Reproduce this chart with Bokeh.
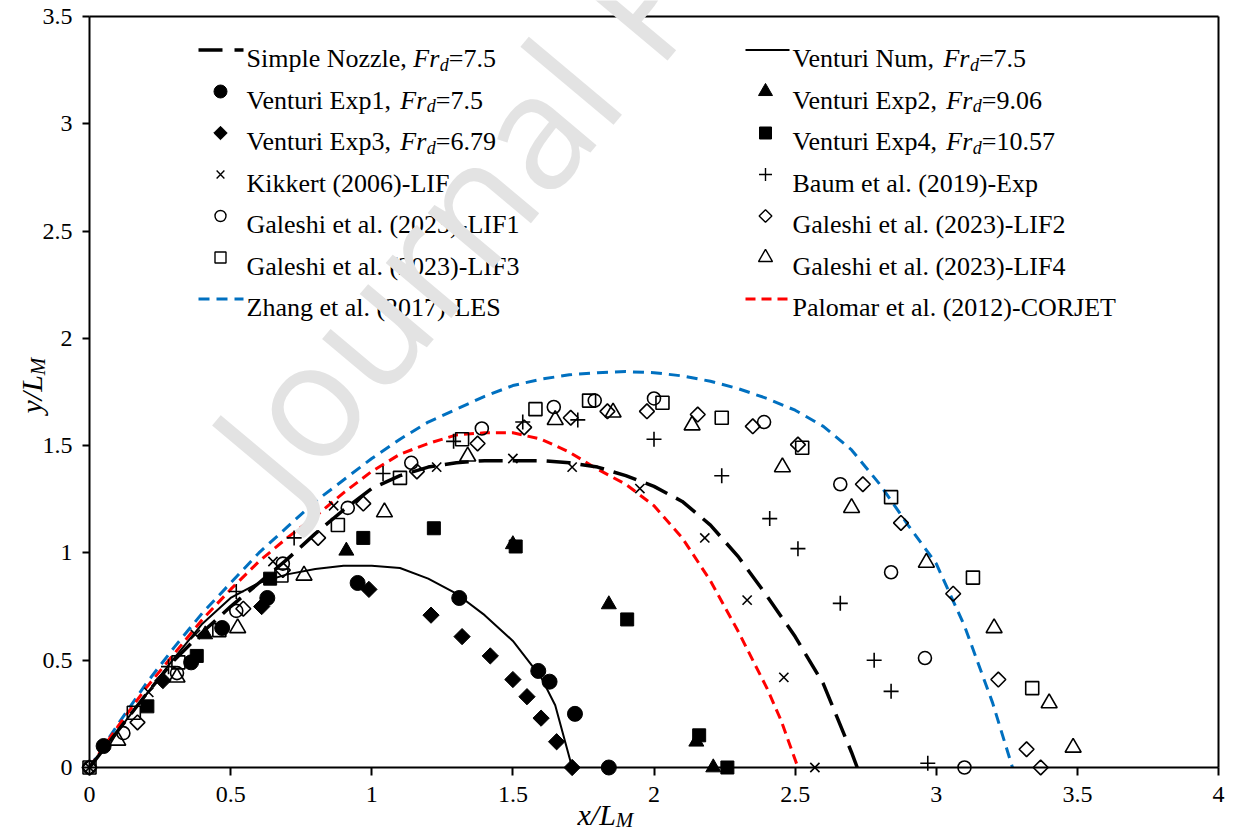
import numpy as np
from bokeh.plotting import figure
from bokeh.models import Range1d, FixedTicker, NumeralTickFormatter, LinearAxis, Label
from bokeh.embed import file_html
from bokeh.resources import INLINE

# ---------------- data ----------------
nozzle_x = [0, 0.1, 0.2, 0.3, 0.4, 0.5, 0.6, 0.7, 0.8, 0.9, 1.0, 1.1, 1.2, 1.3, 1.4, 1.5, 1.6, 1.7, 1.8, 1.9, 2.0, 2.1, 2.2, 2.3, 2.4, 2.5, 2.6, 2.7, 2.72]
nozzle_y = [0, 0.17, 0.34, 0.50, 0.63, 0.75, 0.86, 0.97, 1.09, 1.20, 1.30, 1.36, 1.40, 1.42, 1.43, 1.43, 1.43, 1.42, 1.40, 1.36, 1.31, 1.24, 1.13, 0.98, 0.80, 0.61, 0.39, 0.07, 0.0]

vnum_x = [0, 0.1, 0.2, 0.3, 0.4, 0.5, 0.6, 0.7, 0.8, 0.9, 1.0, 1.1, 1.2, 1.3, 1.4, 1.5, 1.6, 1.65, 1.71]
vnum_y = [0, 0.17, 0.34, 0.51, 0.67, 0.79, 0.86, 0.90, 0.925, 0.94, 0.94, 0.93, 0.88, 0.81, 0.71, 0.59, 0.42, 0.29, 0.0]

zhang_x = [0, 0.1, 0.2, 0.3, 0.4, 0.5, 0.6, 0.7, 0.8, 0.9, 1.0, 1.1, 1.2, 1.3, 1.4, 1.5, 1.6, 1.7, 1.8, 1.9, 2.0, 2.1, 2.2, 2.3, 2.4, 2.5, 2.6, 2.7, 2.8, 2.9, 3.0, 3.1, 3.2, 3.27]
zhang_y = [0, 0.20, 0.39, 0.56, 0.72, 0.86, 1.00, 1.12, 1.24, 1.34, 1.44, 1.53, 1.61, 1.67, 1.73, 1.78, 1.81, 1.83, 1.84, 1.845, 1.84, 1.825, 1.80, 1.765, 1.72, 1.665, 1.59, 1.48, 1.32, 1.13, 0.95, 0.66, 0.30, 0.0]

palomar_x = [0, 0.1, 0.2, 0.3, 0.4, 0.5, 0.6, 0.7, 0.8, 0.9, 1.0, 1.1, 1.2, 1.3, 1.4, 1.5, 1.6, 1.7, 1.8, 1.9, 2.0, 2.1, 2.2, 2.3, 2.4, 2.45, 2.51]
palomar_y = [0, 0.19, 0.37, 0.53, 0.69, 0.83, 0.96, 1.07, 1.17, 1.28, 1.38, 1.46, 1.51, 1.55, 1.56, 1.56, 1.53, 1.47, 1.39, 1.32, 1.22, 1.07, 0.87, 0.63, 0.37, 0.22, 0.0]

exp1_x = [0.05, 0.36, 0.47, 0.63, 0.95, 1.31, 1.59, 1.63, 1.72, 1.84]
exp1_y = [0.10, 0.49, 0.65, 0.79, 0.86, 0.79, 0.45, 0.40, 0.25, 0.0]

exp2_x = [0.41, 0.91, 1.50, 1.84, 2.15, 2.21]
exp2_y = [0.62, 1.01, 1.04, 0.76, 0.12, 0.0]

exp3_x = [0.26, 0.61, 0.99, 1.21, 1.32, 1.42, 1.50, 1.55, 1.60, 1.655, 1.71]
exp3_y = [0.405, 0.75, 0.83, 0.71, 0.61, 0.52, 0.41, 0.33, 0.23, 0.12, 0.0]

exp4_x = [0.205, 0.38, 0.64, 0.97, 1.22, 1.51, 1.905, 2.16, 2.26]
exp4_y = [0.285, 0.52, 0.88, 1.07, 1.115, 1.03, 0.69, 0.15, 0.0]

kikkert_x = [0.0, 0.21, 0.375, 0.65, 0.865, 1.23, 1.50, 1.71, 1.95, 2.18, 2.33, 2.46, 2.57]
kikkert_y = [0.0, 0.35, 0.62, 0.96, 1.22, 1.40, 1.44, 1.40, 1.30, 1.07, 0.78, 0.42, 0.0]

baum_x = [0.28, 0.52, 0.725, 1.04, 1.29, 1.535, 1.73, 2.0, 2.24, 2.41, 2.51, 2.66, 2.78, 2.84, 2.97]
baum_y = [0.47, 0.82, 1.07, 1.37, 1.52, 1.61, 1.62, 1.53, 1.36, 1.16, 1.02, 0.765, 0.50, 0.355, 0.02]

lif1_x = [0, 0.12, 0.31, 0.52, 0.685, 0.915, 1.14, 1.39, 1.645, 1.79, 2.0, 2.39, 2.66, 2.84, 2.96, 3.10]
lif1_y = [0, 0.16, 0.44, 0.73, 0.95, 1.21, 1.42, 1.58, 1.68, 1.71, 1.72, 1.61, 1.32, 0.91, 0.51, 0.0]

lif2_x = [0, 0.17, 0.545, 0.685, 0.81, 0.97, 1.16, 1.375, 1.54, 1.705, 1.835, 1.975, 2.155, 2.35, 2.51, 2.74, 2.875, 3.06, 3.22, 3.32, 3.37]
lif2_y = [0, 0.21, 0.74, 0.92, 1.07, 1.23, 1.38, 1.51, 1.585, 1.63, 1.66, 1.66, 1.645, 1.59, 1.505, 1.32, 1.14, 0.81, 0.41, 0.085, 0.0]

lif3_x = [0, 0.157, 0.315, 0.46, 0.68, 0.88, 1.10, 1.32, 1.58, 1.77, 2.03, 2.24, 2.525, 2.84, 3.13, 3.34]
lif3_y = [0, 0.255, 0.49, 0.64, 0.895, 1.13, 1.35, 1.53, 1.67, 1.71, 1.70, 1.63, 1.49, 1.26, 0.885, 0.37]

lif4_x = [0.10, 0.31, 0.525, 0.76, 1.045, 1.34, 1.65, 1.855, 2.135, 2.455, 2.70, 2.965, 3.205, 3.40, 3.485]
lif4_y = [0.126, 0.42, 0.65, 0.895, 1.19, 1.45, 1.62, 1.655, 1.595, 1.40, 1.21, 0.955, 0.65, 0.30, 0.093]

x_ticks = [0, 0.5, 1, 1.5, 2, 2.5, 3, 3.5, 4]
y_ticks = [0, 0.5, 1, 1.5, 2, 2.5, 3, 3.5]

left_labels = ["Simple Nozzle, ", "Venturi Exp1, ", "Venturi Exp3, ", "Kikkert (2006)-LIF",
               "Galeshi et al. (2023)-LIF1", "Galeshi et al. (2023)-LIF3", "Zhang et al. (2017)-LES"]
left_fr = ["=7.5", "=7.5", "=6.79", None, None, None, None]
right_labels = ["Venturi Num, ", "Venturi Exp2, ", "Venturi Exp4, ", "Baum et al. (2019)-Exp",
                "Galeshi et al. (2023)-LIF2", "Galeshi et al. (2023)-LIF4", "Palomar et al. (2012)-CORJET"]
right_fr = ["=7.5", "=9.06", "=10.57", None, None, None, None]

# ---------------- layout ----------------
W, H = 1233, 834
FL, FR, FT, FB = 89, 1218, 16, 767      # pixel edges of the 0..4 / 0..3.5 box
XMAX, YMAX = 4.0, 3.5


def dx(px):
    return (px - FL) / (FR - FL) * XMAX


def dy(py):
    return (FB - py) / (FB - FT) * YMAX


SERIF = "Liberation Serif"
BLUE = "#0070C0"
RED = "#FF0000"

# the frame covers the whole canvas; the axes are placed at fixed data locations
p = figure(width=W, height=H, output_backend="svg", toolbar_location=None, title=None,
           x_range=Range1d(dx(0), dx(W)), y_range=Range1d(dy(H), dy(0)),
           min_border_left=0, min_border_right=0, min_border_top=0, min_border_bottom=0,
           outline_line_color=None, background_fill_color="white", border_fill_color="white")
p.grid.visible = False

for ax, ticks, bnd, tout, stand in ((p.xaxis[0], x_ticks, (0, XMAX), 8, 11),
                                    (p.yaxis[0], y_ticks, (0, YMAX), 7, 10)):
    ax.ticker = FixedTicker(ticks=ticks)
    ax.formatter = NumeralTickFormatter(format="0.[0]")
    ax.fixed_location = 0
    ax.bounds = bnd
    ax.axis_line_width = 2
    ax.axis_line_color = "black"
    ax.major_tick_out = tout
    ax.major_tick_in = 0
    ax.major_tick_line_width = 2
    ax.major_tick_line_color = "black"
    ax.minor_tick_out = 0
    ax.minor_tick_in = 0
    ax.major_label_text_font = SERIF
    ax.major_label_text_font_size = "24px"
    ax.major_label_text_color = "black"
    ax.major_label_standoff = stand

for loc, bnd, fix in (("above", (0, XMAX), YMAX), ("right", (0, YMAX), XMAX)):
    a = LinearAxis(ticker=FixedTicker(ticks=[]), bounds=bnd, fixed_location=fix,
                   axis_line_width=2, axis_line_color="black",
                   major_tick_out=0, major_tick_in=0, minor_tick_out=0, minor_tick_in=0,
                   major_label_text_font_size="0px", major_label_standoff=0)
    p.add_layout(a, loc)

# ---------------- curves ----------------
p.line(zhang_x, zhang_y, line_color=BLUE, line_width=3, line_dash="11 7")
p.line(palomar_x, palomar_y, line_color=RED, line_width=3, line_dash="10 6")
p.line(nozzle_x, nozzle_y, line_color="black", line_width=3.5, line_dash="24 10")
p.line(vnum_x, vnum_y, line_color="black", line_width=2)

# ---------------- markers ----------------
OPEN_W = 1.6
styles = {
    "exp1": dict(marker="circle", size=15, fill_color="black", line_color="black"),
    "exp2": dict(marker="triangle", size=15, fill_color="black", line_color="black"),
    "exp3": dict(marker="square", size=11.5, angle=np.pi / 4, fill_color="black", line_color="black"),
    "exp4": dict(marker="square", size=13, fill_color="black", line_color="black"),
    "kik": dict(marker="x", size=13, line_color="black", line_width=OPEN_W),
    "baum": dict(marker="cross", size=15, line_color="black", line_width=OPEN_W),
    "lif1": dict(marker="circle", size=13, fill_color=None, line_color="black", line_width=OPEN_W),
    "lif2": dict(marker="square", size=10.5, angle=np.pi / 4, fill_color=None, line_color="black", line_width=OPEN_W),
    "lif3": dict(marker="square", size=13, fill_color=None, line_color="black", line_width=OPEN_W),
    "lif4": dict(marker="triangle", size=16, fill_color=None, line_color="black", line_width=OPEN_W),
}
for key, xs, ys in (("lif1", lif1_x, lif1_y), ("lif2", lif2_x, lif2_y), ("lif3", lif3_x, lif3_y),
                    ("lif4", lif4_x, lif4_y), ("kik", kikkert_x, kikkert_y), ("baum", baum_x, baum_y),
                    ("exp1", exp1_x, exp1_y), ("exp2", exp2_x, exp2_y), ("exp3", exp3_x, exp3_y),
                    ("exp4", exp4_x, exp4_y)):
    p.scatter(xs, ys, **styles[key])

# ---------------- legend (manual, for italic subscript text) ----------------
TR = {' ': 250, ',': 250, '.': 250, '-': 333, '(': 333, ')': 333, '=': 564,
      'A': 722, 'B': 667, 'C': 667, 'D': 722, 'E': 611, 'F': 556, 'G': 722, 'I': 333, 'J': 389,
      'K': 722, 'L': 611, 'M': 889, 'N': 722, 'O': 722, 'P': 556, 'R': 667, 'S': 556, 'T': 611,
      'U': 722, 'V': 722, 'Z': 611, 'a': 444, 'b': 500, 'c': 444, 'd': 500, 'e': 444, 'f': 333,
      'g': 500, 'h': 500, 'i': 278, 'k': 500, 'l': 278, 'm': 778, 'n': 500, 'o': 500, 'p': 500,
      'r': 333, 's': 389, 't': 278, 'u': 500, 'x': 500, 'y': 500, 'z': 444}


def tw(s, size):
    return sum(TR.get(c, 500) for c in s) * size / 1000.0


LFS = 26
SUB = 18


def lab(px, py, text, size, italic=False, angle=0.0, color="black", font=SERIF):
    p.add_layout(Label(x=dx(px), y=dy(py), text=text, text_font=font, text_font_size=f"{size}px",
                       text_font_style="italic" if italic else "normal", text_color=color,
                       text_baseline="alphabetic", text_align="left", angle=angle))


def entry(tx, base, prefix, fr):
    lab(tx, base, prefix, LFS)
    if fr is not None:
        x1 = tx + tw(prefix, LFS)
        lab(x1, base, "Fr", LFS, italic=True)
        x2 = x1 + 1.02 * LFS
        lab(x2, base + 6, "d", SUB, italic=True)
        lab(x2 + 0.5 * SUB, base, fr, LFS)


ROW0, ROWH = 58, 41.5
L_TX, L_MK, L_L0, L_L1 = 246, 220, 198, 243
R_TX, R_MK, R_L0, R_L1 = 792, 765, 745, 789

leg_left = [("line", dict(line_color="black", line_width=3.5, line_dash="24 12")),
            ("mk", dict(marker="circle", size=13, fill_color="black", line_color="black")),
            ("mk", dict(marker="square", size=9.5, angle=np.pi / 4, fill_color="black", line_color="black")),
            ("mk", dict(marker="x", size=11, line_color="black", line_width=1.4)),
            ("mk", dict(marker="circle", size=11, fill_color=None, line_color="black", line_width=1.4)),
            ("mk", dict(marker="square", size=11, fill_color=None, line_color="black", line_width=1.4)),
            ("line", dict(line_color=BLUE, line_width=3, line_dash="11 7"))]
leg_right = [("line", dict(line_color="black", line_width=2)),
             ("mk", dict(marker="triangle", size=14, fill_color="black", line_color="black")),
             ("mk", dict(marker="square", size=12, fill_color="black", line_color="black")),
             ("mk", dict(marker="cross", size=13, line_color="black", line_width=1.4)),
             ("mk", dict(marker="square", size=9, angle=np.pi / 4, fill_color=None, line_color="black", line_width=1.4)),
             ("mk", dict(marker="triangle", size=14, fill_color=None, line_color="black", line_width=1.4)),
             ("line", dict(line_color=RED, line_width=3, line_dash="10 6"))]

for col, labels, frs, tx, mk, l0, l1 in ((leg_left, left_labels, left_fr, L_TX, L_MK, L_L0, L_L1),
                                          (leg_right, right_labels, right_fr, R_TX, R_MK, R_L0, R_L1)):
    for i, ((kind, st), text, fr) in enumerate(zip(col, labels, frs)):
        base = ROW0 + ROWH * i
        cy = dy(base - 8.5)
        if kind == "line":
            p.line([dx(l0), dx(l1)], [cy, cy], **st)
        else:
            p.scatter([dx(mk)], [cy], **st)
        entry(tx, base, text, fr)

# ---------------- axis titles ----------------
AX_FS, AX_SUB = 30, 21
lab(577, 814, "x/L", AX_FS, italic=True)
lab(577 + 1278 * AX_FS / 1000.0, 819, "M", AX_SUB, italic=True)
lab(31, 413, "y/L", AX_FS, italic=True, angle=np.pi / 2)
lab(37, 413 - 1278 * AX_FS / 1000.0, "M", AX_SUB, italic=True, angle=np.pi / 2)

# ---------------- watermark ----------------
lab(242, 470, "Journal Pre-proof", 160, angle=np.deg2rad(50), color="#e3e3e3", font="Open Sans")

open("out.html", "w").write(file_html(p, INLINE))
